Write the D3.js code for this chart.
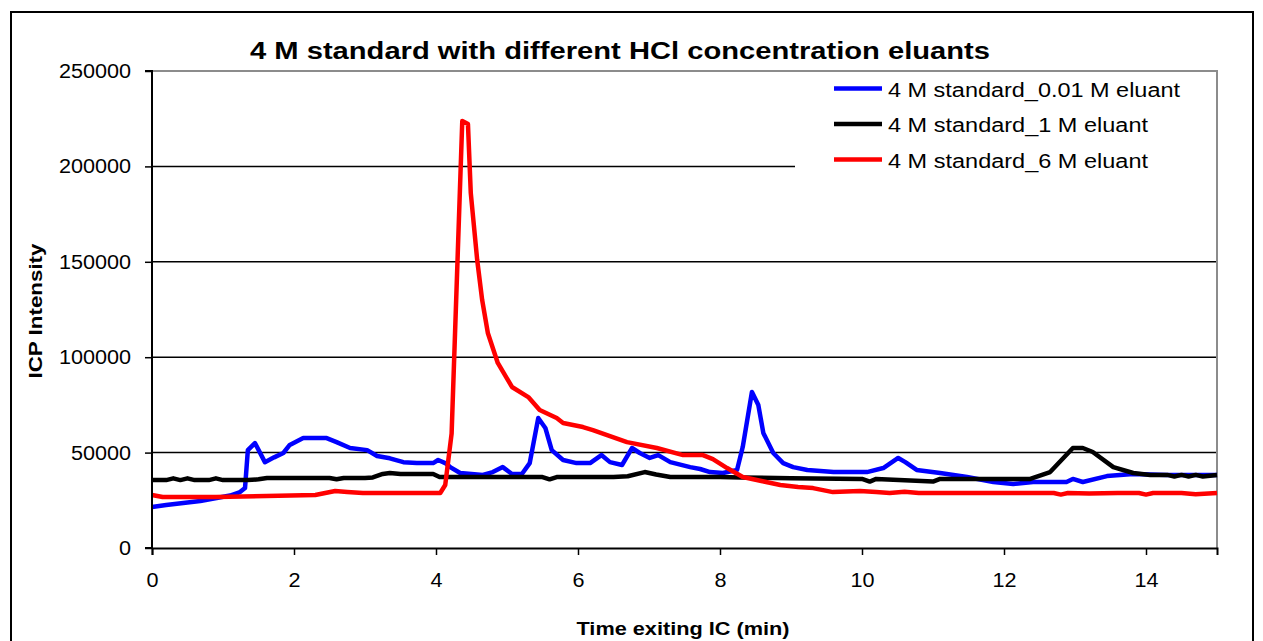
<!DOCTYPE html>
<html>
<head>
<meta charset="utf-8">
<script src="https://cdn.jsdelivr.net/npm/d3@7"></script>
<style>
  html, body { margin: 0; padding: 0; background: #fff; }
  svg { display: block; font-family: "Liberation Sans", Arial, sans-serif; }
</style>
</head>
<body>
<svg id="chart" width="1263" height="641"></svg>
<script>
const titleText = "4 M standard with different HCl concentration eluants";
const xAxisTitle = "Time exiting IC (min)";
const yAxisTitle = "ICP Intensity";
const xTicks = [0, 2, 4, 6, 8, 10, 12, 14];
const yTicks = [0, 50000, 100000, 150000, 200000, 250000];
const seriesNames = ["4 M standard_0.01 M eluant", "4 M standard_1 M eluant", "4 M standard_6 M eluant"];
const seriesColors = ["#0000ff", "#000000", "#ff0000"];

const blueTime = [0, 0.2, 0.44, 0.68, 0.91, 1.1, 1.24, 1.31, 1.35, 1.45, 1.59, 1.72, 1.85, 1.94, 2.13, 2.46, 2.6, 2.79, 3.03, 3.17, 3.35, 3.54, 3.73, 3.96, 4.03, 4.13, 4.2, 4.34, 4.66, 4.8, 4.94, 5.07, 5.21, 5.32, 5.44, 5.54, 5.63, 5.79, 5.98, 6.17, 6.33, 6.45, 6.62, 6.76, 6.87, 7.01, 7.13, 7.3, 7.58, 7.72, 7.86, 8.04, 8.24, 8.32, 8.45, 8.54, 8.61, 8.75, 8.89, 9.03, 9.23, 9.6, 10.07, 10.3, 10.51, 10.61, 10.77, 11.1, 11.48, 11.85, 12.13, 12.41, 12.88, 12.97, 13.11, 13.45, 13.82, 14.3, 15];
const blueValues = [21500, 22500, 23600, 24600, 26200, 27500, 29300, 31400, 51300, 55000, 45000, 47500, 49800, 54000, 57600, 57600, 55500, 52400, 51300, 48200, 47000, 45000, 44500, 44500, 46100, 44500, 42400, 39300, 38300, 39800, 42400, 38800, 38800, 44500, 68100, 62900, 51300, 46100, 44500, 44500, 48700, 45000, 43500, 52400, 49800, 47200, 48700, 45000, 42400, 41400, 39800, 39300, 40900, 52900, 81800, 74900, 60300, 49800, 44500, 42400, 40900, 39800, 39800, 41900, 47200, 45000, 40900, 39300, 37200, 34600, 33500, 34600, 34600, 36200, 34600, 37700, 38800, 38300, 38300];

const blackTime = [0, 0.2, 0.3, 0.4, 0.5, 0.6, 0.8, 0.9, 1.0, 1.35, 1.5, 1.62, 2.0, 2.5, 2.6, 2.7, 3.0, 3.11, 3.25, 3.35, 3.5, 3.96, 4.05, 5.0, 5.5, 5.6, 5.7, 6.5, 6.7, 6.94, 7.1, 7.3, 8.0, 8.3, 9.0, 10.0, 10.11, 10.2, 11.0, 11.1, 12.37, 12.65, 12.97, 13.11, 13.25, 13.54, 13.82, 14.06, 14.3, 14.4, 14.5, 14.6, 14.7, 14.8, 15];
const blackValues = [35600, 35600, 36500, 35600, 36500, 35600, 35600, 36500, 35600, 35600, 36000, 36700, 36700, 36700, 36000, 36700, 36700, 37000, 38800, 39300, 38800, 38800, 37200, 37200, 37200, 36000, 37200, 37200, 37600, 39800, 38500, 37200, 37200, 37000, 36500, 36200, 34800, 36200, 34800, 36200, 36200, 39800, 52400, 52400, 50300, 42400, 39300, 38300, 38300, 37500, 38300, 37500, 38300, 37500, 38300];

const redTime = [0, 0.15, 0.9, 2.3, 2.58, 2.75, 2.97, 3.5, 4.06, 4.13, 4.22, 4.37, 4.45, 4.49, 4.58, 4.65, 4.73, 4.87, 5.07, 5.3, 5.46, 5.7, 5.79, 6.07, 6.21, 6.41, 6.69, 7.11, 7.48, 7.76, 7.9, 8.1, 8.32, 8.6, 8.85, 9.1, 9.31, 9.59, 9.97, 10.2, 10.39, 10.6, 10.8, 11, 12, 12.7, 12.8, 12.9, 13.2, 13.6, 13.9, 14.0, 14.1, 14.5, 14.7, 15];
const redValues = [27800, 26700, 26700, 27800, 29900, 29400, 28800, 28800, 28800, 33000, 60000, 223800, 222200, 186000, 151000, 130000, 112700, 97000, 84400, 79100, 72300, 68100, 65500, 63400, 61800, 59200, 55500, 52400, 48700, 48700, 46600, 41900, 37200, 35000, 33000, 32000, 31400, 29300, 29900, 29300, 28800, 29500, 28800, 28800, 28800, 28800, 28000, 28800, 28500, 28800, 28800, 28000, 28800, 28800, 28200, 28800];

const svg = d3.select("#chart");
const m = { left: 152, right: 1217, top: 71, bottom: 548 };

// outer frame
svg.append("rect").attr("x", 11).attr("y", 12).attr("width", 1242).attr("height", 640)
  .attr("fill", "#fff").attr("stroke", "#000").attr("stroke-width", 2);

const x = d3.scaleLinear().domain([0, 15]).range([m.left, m.right]);
const y = d3.scaleLinear().domain([0, 250000]).range([m.bottom, m.top]);

// gridlines
svg.append("g").selectAll("line").data(yTicks.filter(d => d > 0 && d < 250000)).join("line")
  .attr("x1", m.left).attr("x2", m.right).attr("y1", d => y(d)).attr("y2", d => y(d))
  .attr("stroke", "#000").attr("stroke-width", 1.5);

// plot border (top & right gray)
svg.append("path").attr("d", `M${m.left},${y(250000)}H${m.right}V${m.bottom}`)
  .attr("fill", "none").attr("stroke", "#8c8c8c").attr("stroke-width", 2);

// series
const series = [
  { time: blueTime, values: blueValues },
  { time: blackTime, values: blackValues },
  { time: redTime, values: redValues }
];
const line = d3.line().x(d => x(d[0])).y(d => y(d[1]));
series.forEach((s, i) => {
  svg.append("path").datum(s.time.map((t, k) => [t, s.values[k]]))
    .attr("d", line).attr("fill", "none").attr("stroke", seriesColors[i])
    .attr("stroke-width", 4.5).attr("stroke-linejoin", "round");
});

// axes
const yAxis = svg.append("g").attr("transform", `translate(${m.left},0)`)
  .call(d3.axisLeft(y).tickValues(yTicks).tickFormat(d3.format("d")).tickSize(7).tickPadding(14));
const xAxis = svg.append("g").attr("transform", `translate(0,${m.bottom})`)
  .call(d3.axisBottom(x).tickValues(xTicks).tickFormat(d3.format("d")).tickSize(7).tickPadding(18));
[yAxis, xAxis].forEach(g => {
  g.select(".domain").attr("stroke", "#000").attr("stroke-width", 2);
  g.selectAll(".tick line").attr("stroke", "#000").attr("stroke-width", 1.5);
  g.selectAll("text").attr("font-size", 20).attr("fill", "#000")
    .attr("font-family", "'Liberation Sans', Arial, sans-serif");
});
yAxis.select(".domain").attr("d", `M-7,${m.top}H0V${m.bottom}H-7`);
[xAxis, yAxis].forEach(g => g.selectAll("text").each(function () {
  const w = this.getComputedTextLength();
  d3.select(this).attr("textLength", w * 1.08).attr("lengthAdjust", "spacingAndGlyphs");
}));

// title
svg.append("text").attr("x", 620).attr("y", 59).attr("text-anchor", "middle")
  .attr("font-size", 23).attr("font-weight", "bold").attr("textLength", 740)
  .attr("lengthAdjust", "spacingAndGlyphs").text(titleText);

// axis titles
svg.append("text").attr("x", 683).attr("y", 635).attr("text-anchor", "middle")
  .attr("font-size", 18.5).attr("font-weight", "bold").attr("textLength", 213)
  .attr("lengthAdjust", "spacingAndGlyphs").text(xAxisTitle);
svg.append("text").attr("transform", "translate(42,311) rotate(-90)").attr("text-anchor", "middle")
  .attr("font-size", 18.5).attr("font-weight", "bold").attr("textLength", 135)
  .attr("lengthAdjust", "spacingAndGlyphs").text(yAxisTitle);

// legend
const lg = svg.append("g");
lg.append("rect").attr("x", 795).attr("y", 73).attr("width", 421).attr("height", 113).attr("fill", "#fff");
const legendWidths = [292, 260, 260];
seriesNames.forEach((name, i) => {
  const ly = 88.5 + i * 35.5;
  lg.append("line").attr("x1", 834).attr("x2", 882).attr("y1", ly).attr("y2", ly)
    .attr("stroke", seriesColors[i]).attr("stroke-width", 4.5);
  lg.append("text").attr("x", 888).attr("y", ly + 8).attr("font-size", 20)
    .attr("textLength", legendWidths[i]).attr("lengthAdjust", "spacingAndGlyphs").text(name);
});
</script>
</body>
</html>
